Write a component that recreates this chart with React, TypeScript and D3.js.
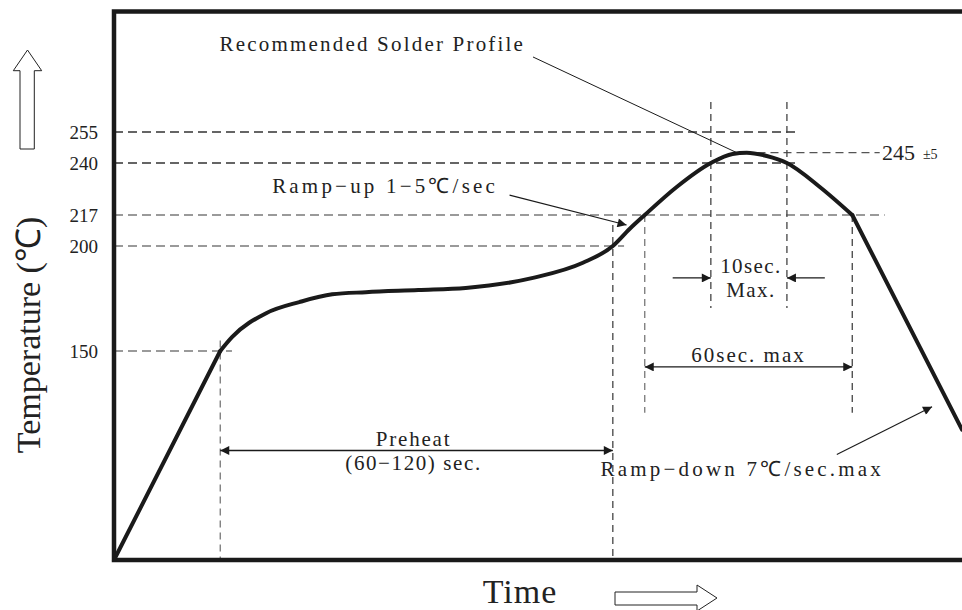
import React, { useRef, useEffect } from 'react';
import { select, scaleLinear, line, curveMonotoneX, curveLinear } from 'd3';

// temperature marks on the left side (deg C)
const tempTicks = [255, 240, 217, 200, 150];

// profile points as [time (s), temp (C)]
const rampUpPts: [number, number][] = [[0, 25], [42.6, 150]];
const soakReflowPts: [number, number][] = [
  [42.6, 150], [47.4, 156.7], [61, 168], [74.3, 173.3], [87.5, 177], [101, 178],
  [122, 179], [141, 180], [168, 184.8], [188, 192], [200, 200], [206.7, 209.3],
  [212.8, 217], [225.6, 229.4], [239.3, 240], [248, 244.4], [253.7, 245],
  [261.7, 243.4], [269.8, 240], [283, 229.4], [296, 217],
];
const rampDownPts: [number, number][] = [[296, 217], [340, 103]];

const peakTemp = 245;
const peakTol = '±5';

// dashed guide lines: temp level and how far right (time) they run
const hGuideTemps = [255, 240, 217, 200, 150];
const hGuideEnds = [274, 274, 309, 204.5, 47.3];
// vertical guides: time, top temp, bottom temp
const vGuideTimes = [42.6, 200, 212.8, 296, 239.3, 269.8];
const vGuideTops = [155, 211.5, 217, 217, 269.5, 269.5];
const vGuideBottoms = [25, 25, 113, 113, 170.5, 170.5];

const W = 962;
const H = 610;
const FONT = '"Liberation Serif", "Times New Roman", serif';

function SolderProfile() {
  const svgRef = useRef<SVGSVGElement>(null);

  useEffect(() => {
    const svg = select(svgRef.current);
    svg.selectAll('*').remove();

    const x = scaleLinear().domain([0, 340]).range([114, 962]);
    // piecewise so the marked levels land where the drawing has them
    const y = scaleLinear()
      .domain([25, 150, 200, 217, 240, 255])
      .range([560, 351, 246, 215, 163, 132]);

    const defs = svg.append('defs');
    defs.append('marker')
      .attr('id', 'ah')
      .attr('viewBox', '0 0 10 10')
      .attr('refX', 10).attr('refY', 5)
      .attr('markerWidth', 13).attr('markerHeight', 9)
      .attr('markerUnits', 'userSpaceOnUse')
      .attr('orient', 'auto-start-reverse')
      .append('path').attr('d', 'M0,0 L10,5 L0,10 Z').attr('fill', '#1a1a1a');

    // horizontal guides
    svg.append('g').selectAll('line')
      .data(hGuideTemps)
      .join('line')
      .attr('x1', x(0)).attr('x2', (d, i) => x(hGuideEnds[i]))
      .attr('y1', d => y(d)).attr('y2', d => y(d))
      .attr('stroke', d => (d >= 240 ? '#333' : '#7a7a7a'))
      .attr('stroke-width', 1.4)
      .attr('stroke-dasharray', '9,5');

    // peak guide
    svg.append('line')
      .attr('x1', x(258)).attr('x2', x(307))
      .attr('y1', y(peakTemp)).attr('y2', y(peakTemp))
      .attr('stroke', '#555').attr('stroke-width', 1.3)
      .attr('stroke-dasharray', '8,5');

    // vertical guides
    svg.append('g').selectAll('line')
      .data(vGuideTimes)
      .join('line')
      .attr('x1', d => x(d)).attr('x2', d => x(d))
      .attr('y1', (d, i) => y(vGuideTops[i])).attr('y2', (d, i) => y(vGuideBottoms[i]))
      .attr('stroke', (d, i) => (i === 0 || i === 2 ? '#777' : '#444'))
      .attr('stroke-width', 1.3)
      .attr('stroke-dasharray', '7,5');

    // tick labels
    svg.append('g').selectAll('text')
      .data(tempTicks)
      .join('text')
      .attr('x', 98).attr('y', d => y(d)).attr('dy', '0.35em')
      .attr('text-anchor', 'end')
      .attr('font-family', FONT).attr('font-size', 19).attr('fill', '#222')
      .text(d => d);

    // frame
    svg.append('path')
      .attr('d', `M${W + 2},11.5 H${x(0)} V${y(25)} H${W + 2}`)
      .attr('fill', 'none').attr('stroke', '#1a1a1a').attr('stroke-width', 4.5);

    // profile curve
    const straight = line<[number, number]>().x(d => x(d[0])).y(d => y(d[1])).curve(curveLinear);
    const smooth = line<[number, number]>().x(d => x(d[0])).y(d => y(d[1])).curve(curveMonotoneX);
    [straight(rampUpPts), smooth(soakReflowPts), straight(rampDownPts)].forEach(d => {
      svg.append('path')
        .attr('d', d)
        .attr('fill', 'none').attr('stroke', '#1a1a1a')
        .attr('stroke-width', 4).attr('stroke-linecap', 'round').attr('stroke-linejoin', 'round');
    });

    const arrow = (x1: number, y1: number, x2: number, y2: number, both: boolean, w = 1.3) => {
      const l = svg.append('line')
        .attr('x1', x1).attr('y1', y1).attr('x2', x2).attr('y2', y2)
        .attr('stroke', '#1a1a1a').attr('stroke-width', w)
        .attr('marker-end', 'url(#ah)');
      if (both) l.attr('marker-start', 'url(#ah)');
    };

    const label = (tx: number, ty: number, s: string, size: number, spacing: number, anchor = 'start') => {
      svg.append('text')
        .attr('x', tx).attr('y', ty)
        .attr('text-anchor', anchor)
        .attr('font-family', FONT).attr('font-size', size)
        .attr('fill', '#222')
        .style('letter-spacing', `${spacing}px`)
        .text(s);
    };

    // preheat span
    const preY = y(90.5);
    arrow(x(42.6), preY, x(200), preY, true);
    label((x(42.6) + x(200)) / 2 - 3, preY - 4, 'Preheat', 21, 1.8, 'middle');
    label((x(42.6) + x(200)) / 2 - 3, preY + 20, '(60−120) sec.', 21, 1.6, 'middle');

    // 60 sec max span
    const liqY = y(140.5);
    arrow(x(212.8), liqY, x(296), liqY, true);
    label((x(212.8) + x(296)) / 2, liqY - 5, '60sec. max', 21, 2, 'middle');

    // 10 sec max at peak
    const pkY = y(184.8);
    arrow(x(224), pkY, x(239.3), pkY, false);
    arrow(x(285), pkY, x(269.8), pkY, false);
    label((x(239.3) + x(269.8)) / 2 + 2, pkY - 5, '10sec.', 21, 1.4, 'middle');
    label((x(239.3) + x(269.8)) / 2 + 2, pkY + 19, 'Max.', 21, 1.4, 'middle');

    // callouts
    label(x(42.3), y(294), 'Recommended Solder Profile', 21, 2.2);
    svg.append('line')
      .attr('x1', x(168)).attr('y1', y(291.3)).attr('x2', x(249.7)).attr('y2', y(245))
      .attr('stroke', '#1a1a1a').attr('stroke-width', 1);

    label(x(63.4), y(226.7), 'Ramp−up 1−5℃/sec', 21, 3.2);
    arrow(x(158.6), y(225.8), x(205.5), y(211.5), false, 1.1);

    label(x(195.1), y(75), 'Ramp−down 7℃/sec.max', 21, 3.2);
    arrow(x(289.8), y(88.1), x(328), y(116.7), false, 1.1);

    label(x(307.9), y(241.5), String(peakTemp), 22, 0);
    label(x(307.9) + 41, y(241.5) - 1, peakTol, 14, 0);

    // axis titles
    svg.append('text')
      .attr('transform', 'translate(40,335) rotate(-90)')
      .attr('text-anchor', 'middle')
      .attr('font-family', FONT).attr('font-size', 34).attr('fill', '#222')
      .text('Temperature (℃)');
    svg.append('text')
      .attr('x', 520).attr('y', 603)
      .attr('text-anchor', 'middle')
      .attr('font-family', FONT).attr('font-size', 34).attr('fill', '#222')
      .style('letter-spacing', '1px')
      .text('Time');

    // hollow block arrows next to the titles
    svg.append('path')
      .attr('d', 'M20,149 H34.3 V70.7 H41.7 L27.5,50 L13.3,70.7 H20 Z')
      .attr('fill', '#fff').attr('stroke', '#222').attr('stroke-width', 1);
    svg.append('path')
      .attr('d', 'M615,592 H697 V585 L717,598 L697,611 V605 H615 Z')
      .attr('fill', '#fff').attr('stroke', '#222').attr('stroke-width', 1);
  }, []);

  return (
    <svg
      ref={svgRef}
      width={W}
      height={H}
      style={{ position: 'absolute', left: 0, top: 0, background: '#fff' }}
    />
  );
}

export default function App() {
  return <SolderProfile />;
}
